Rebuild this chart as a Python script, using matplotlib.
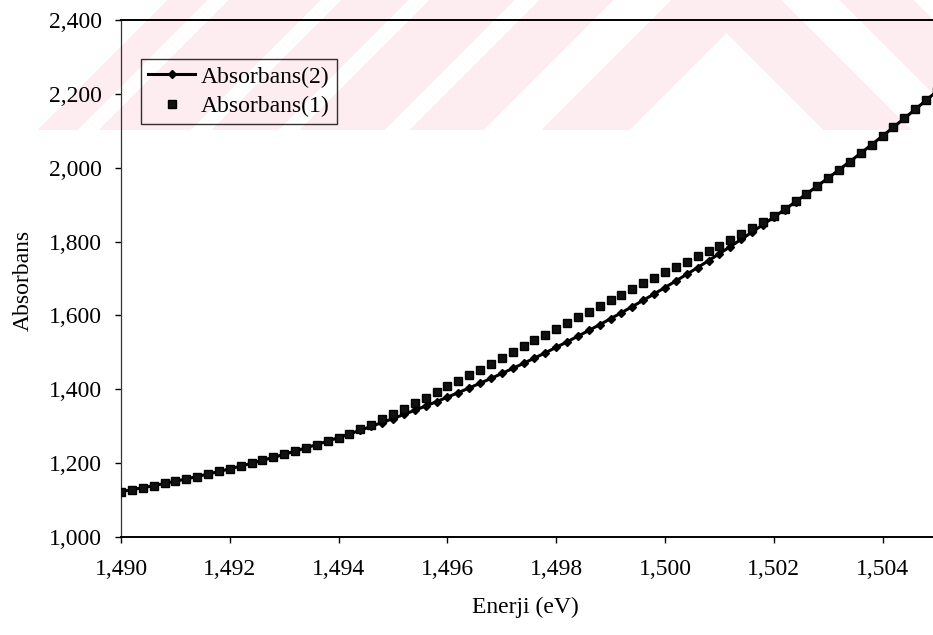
import numpy as np
import matplotlib
matplotlib.use("Agg")
import matplotlib.pyplot as plt
from matplotlib.ticker import FuncFormatter

# Photon energy (eV)
enerji = [
    1.4900, 1.4902, 1.4904, 1.4906, 1.4908, 1.4910, 1.4912, 1.4914, 1.4916, 1.4918,
    1.4920, 1.4922, 1.4924, 1.4926, 1.4928, 1.4930, 1.4932, 1.4934, 1.4936, 1.4938,
    1.4940, 1.4942, 1.4944, 1.4946, 1.4948, 1.4950, 1.4952, 1.4954, 1.4956, 1.4958,
    1.4960, 1.4962, 1.4964, 1.4966, 1.4968, 1.4970, 1.4972, 1.4974, 1.4976, 1.4978,
    1.4980, 1.4982, 1.4984, 1.4986, 1.4988, 1.4990, 1.4992, 1.4994, 1.4996, 1.4998,
    1.5000, 1.5002, 1.5004, 1.5006, 1.5008, 1.5010, 1.5012, 1.5014, 1.5016, 1.5018,
    1.5020, 1.5022, 1.5024, 1.5026, 1.5028, 1.5030, 1.5032, 1.5034, 1.5036, 1.5038,
    1.5040, 1.5042, 1.5044, 1.5046, 1.5048, 1.5050,
]

# Absorbans(2): line series
absorbans_2 = [
    1.1230, 1.1281, 1.1335, 1.1391, 1.1449, 1.1510, 1.1572, 1.1637, 1.1704, 1.1774,
    1.1845, 1.1920, 1.1996, 1.2075, 1.2156, 1.2239, 1.2325, 1.2414, 1.2504, 1.2597,
    1.2693, 1.2791, 1.2892, 1.2995, 1.3100, 1.3208, 1.3318, 1.3431, 1.3547, 1.3665,
    1.3786, 1.3909, 1.4035, 1.4163, 1.4294, 1.4428, 1.4564, 1.4703, 1.4845, 1.4989,
    1.5136, 1.5285, 1.5438, 1.5593, 1.5751, 1.5911, 1.6075, 1.6241, 1.6410, 1.6582,
    1.6756, 1.6934, 1.7114, 1.7297, 1.7483, 1.7672, 1.7864, 1.8059, 1.8256, 1.8457,
    1.8660, 1.8867, 1.9076, 1.9289, 1.9504, 1.9722, 1.9944, 2.0168, 2.0396, 2.0626,
    2.0860, 2.1097, 2.1337, 2.1580, 2.1826, 2.2075,
]

# Absorbans(1): square markers
absorbans_1 = [
    1.1230, 1.1281, 1.1335, 1.1391, 1.1449, 1.1510, 1.1572, 1.1637, 1.1704, 1.1774,
    1.1845, 1.1920, 1.1996, 1.2075, 1.2156, 1.2239, 1.2325, 1.2414, 1.2504, 1.2597,
    1.2693, 1.2791, 1.2912, 1.3045, 1.3190, 1.3328, 1.3478, 1.3621, 1.3777, 1.3925,
    1.4076, 1.4229, 1.4385, 1.4533, 1.4694, 1.4848, 1.5004, 1.5163, 1.5325, 1.5479,
    1.5636, 1.5795, 1.5948, 1.6103, 1.6261, 1.6411, 1.6565, 1.6721, 1.6870, 1.7022,
    1.7166, 1.7314, 1.7454, 1.7597, 1.7743, 1.7892, 1.8044, 1.8199, 1.8356, 1.8527,
    1.8700, 1.8887, 1.9086, 1.9289, 1.9504, 1.9722, 1.9944, 2.0168, 2.0396, 2.0626,
    2.0860, 2.1097, 2.1337, 2.1580, 2.1826, 2.2075,
]

x_ticks = [1.490, 1.492, 1.494, 1.496, 1.498, 1.500, 1.502, 1.504]
y_ticks = [1.0, 1.2, 1.4, 1.6, 1.8, 2.0, 2.2, 2.4]

plt.rcParams["font.family"] = ["Liberation Serif", "DejaVu Serif"]
FS = 17

W, H, DPI = 933, 635, 100
fig = plt.figure(figsize=(W / DPI, H / DPI), dpi=DPI, facecolor="white")

# faint pink chevron stripes across the top band of the page
band_h = 130
yy, xx = np.mgrid[0:band_h, 0:W]
d = yy - np.abs(xx - 726)
pink = ((d > -56) & (d < 33))
for lo, hi in [(-188, -113), (-298, -212), (-386, -318), (-499, -406), (-560, -519)]:
    pink |= (d > lo) & (d < hi)
wm = np.zeros((band_h, W, 4))
wm[..., 0] = 253 / 255
wm[..., 1] = 236 / 255
wm[..., 2] = 240 / 255
wm[..., 3] = pink.astype(float)
fig.figimage(wm, xo=0, yo=H - band_h, origin="upper", zorder=-1)

ax = fig.add_axes([121 / W, 98 / H, 816 / W, 517 / H])
ax.set_facecolor("none")

ax.plot(enerji, absorbans_2, color="black", linewidth=2.2, marker="D",
        markersize=4.4, markerfacecolor="black", markeredgecolor="black",
        label="Absorbans(2)", zorder=3)
ax.plot(enerji, absorbans_1, linestyle="none", marker="s", markersize=5.6,
        markerfacecolor="#111111", markeredgecolor="black",
        label="Absorbans(1)", zorder=4)

ax.set_xlim(1.490, 1.505)
ax.set_ylim(1.0, 2.4)
ax.set_xticks(x_ticks)
ax.set_yticks(y_ticks)
comma_fmt = FuncFormatter(lambda v, p: f"{v:.3f}".replace(".", ","))
ax.xaxis.set_major_formatter(comma_fmt)
ax.yaxis.set_major_formatter(comma_fmt)
ax.tick_params(axis="x", direction="out", length=4, width=1, pad=12, labelsize=FS)
ax.tick_params(axis="y", direction="out", length=4.5, width=1, pad=9, labelsize=FS)

ax.spines["right"].set_visible(False)
ax.spines["top"].set_linewidth(1.4)
ax.spines["bottom"].set_linewidth(1.4)
ax.spines["left"].set_linewidth(0.9)
ax.spines["left"].set_color("#333333")

ax.set_xlabel("Enerji (eV)", fontsize=FS)
ax.xaxis.set_label_coords((525 - 121) / 816, (537 - 597) / 517)
ax.set_ylabel("Absorbans", fontsize=FS, va="center")
ax.yaxis.set_label_coords((23 - 121) / 816, (537 - 280) / 517)

leg = ax.legend(loc="upper left", bbox_to_anchor=((141 - 121) / 816, 1 - (59 - 20) / 517),
                borderaxespad=0, fontsize=FS, frameon=True, fancybox=False,
                facecolor="none", edgecolor="black", numpoints=1,
                handlelength=2.0, handletextpad=0.25, borderpad=0.3,
                labelspacing=0.35)
leg.get_frame().set_linewidth(1.0)

fig.savefig("out.png", dpi=DPI, facecolor="white")
